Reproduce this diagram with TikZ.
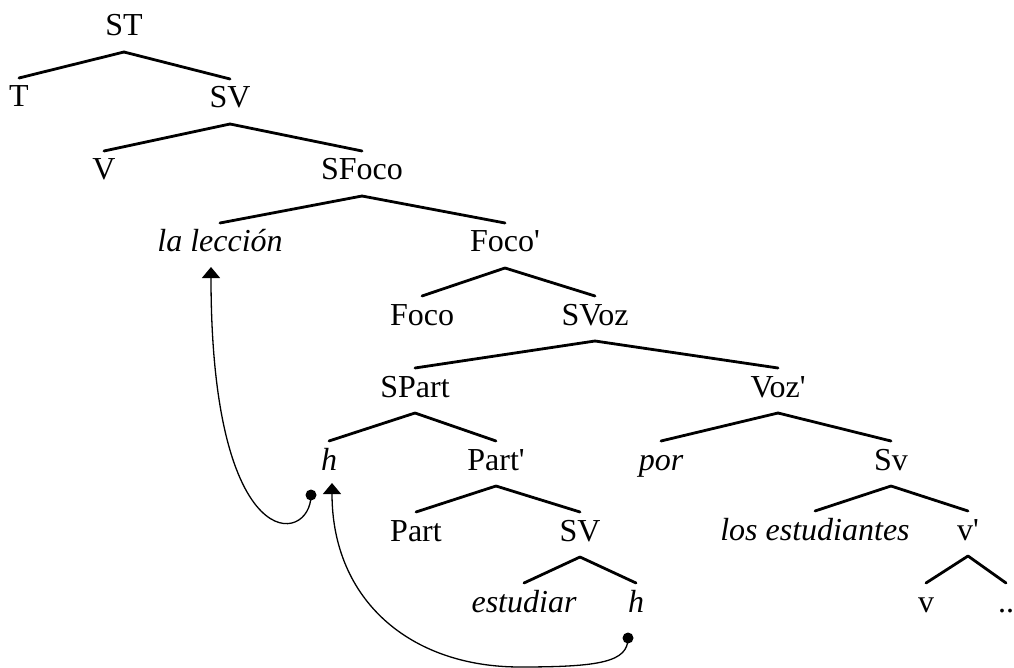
\documentclass[tikz,border=0pt]{standalone}
\usepackage{fontspec}
\setmainfont{Liberation Serif}
\usetikzlibrary{calc,arrows.meta}
\newcommand{\apos}{\textquotesingle}
\newcommand{\treebranch}[2]{\draw[branch] ($(#1.base)+(0,16)$) -- ($(#2.base)+(0,-29)$);}
\begin{document}
\begin{tikzpicture}[x=1pt,y=-1pt,
  lab/.style={anchor=base,inner sep=0pt,font=\fontsize{32}{38}\selectfont},
  ital/.style={lab,font=\fontsize{32}{38}\selectfont\itshape},
  branch/.style={line width=2.8pt,line cap=round,line join=miter},
  move/.style={line width=1.3pt,-{Triangle[width=18pt,length=11pt]}},
  dotmark/.style={fill=black,draw=none}]
\useasboundingbox (0,0) rectangle (1014,668);
% nodes
\node[lab] (ST) at (124,36) {ST};
\node[lab] (T) at (19,107) {T};
\node[lab] (SVa) at (230,108) {SV};
\node[lab] (V) at (104,180) {V};
\node[lab] (SFoco) at (362,180) {SFoco};
\node[ital] (lal) at (220,252) {la lección};
\node[lab] (Focop) at (505,252) {Foco\apos};
\node[lab] (Foco) at (422,325) {Foco};
\node[lab] (SVoz) at (595,325) {SVoz};
\node[lab] (SPart) at (415,397) {SPart};
\node[lab] (Vozp) at (778,397) {Voz\apos};
\node[ital] (ha) at (329,470) {h};
\node[lab] (Partp) at (496,470) {Part\apos};
\node[ital] (por) at (661,470) {por};
\node[lab] (Sv) at (891,470) {Sv};
\node[lab] (Part) at (416,541) {Part};
\node[lab] (SVb) at (580,541) {SV};
\node[ital] (los) at (815,540) {los estudiantes};
\node[lab] (vp) at (968,540) {v\apos};
\node[ital] (est) at (524,612) {estudiar};
\node[ital] (hb) at (636,612) {h};
\node[lab] (v) at (926,612) {v};
\node[lab] (dd) at (1006,612) {..};
% branches
\treebranch{ST}{T}
\treebranch{ST}{SVa}
\treebranch{SVa}{V}
\treebranch{SVa}{SFoco}
\treebranch{SFoco}{lal}
\treebranch{SFoco}{Focop}
\treebranch{Focop}{Foco}
\treebranch{Focop}{SVoz}
\treebranch{SVoz}{SPart}
\treebranch{SVoz}{Vozp}
\treebranch{SPart}{ha}
\treebranch{SPart}{Partp}
\treebranch{Vozp}{por}
\treebranch{Vozp}{Sv}
\treebranch{Partp}{Part}
\treebranch{Partp}{SVb}
\treebranch{Sv}{los}
\treebranch{Sv}{vp}
\treebranch{SVb}{est}
\treebranch{SVb}{hb}
\treebranch{vp}{v}
\treebranch{vp}{dd}
% movement arrows
\coordinate (d1) at (311,495);
\coordinate (t1) at (211,267);
\coordinate (d2) at (628,638);
\coordinate (t2) at (332,483);
\draw[move] (d1) .. controls (311,545) and (211,560) .. (t1);
\draw[move] (d2) .. controls (628,662) and (600,667) .. (520,667)
  .. controls (410,667) and (332,600) .. (t2);
\fill[dotmark] (d1) circle (5.5);
\fill[dotmark] (d2) circle (5.5);
\end{tikzpicture}
\end{document}
